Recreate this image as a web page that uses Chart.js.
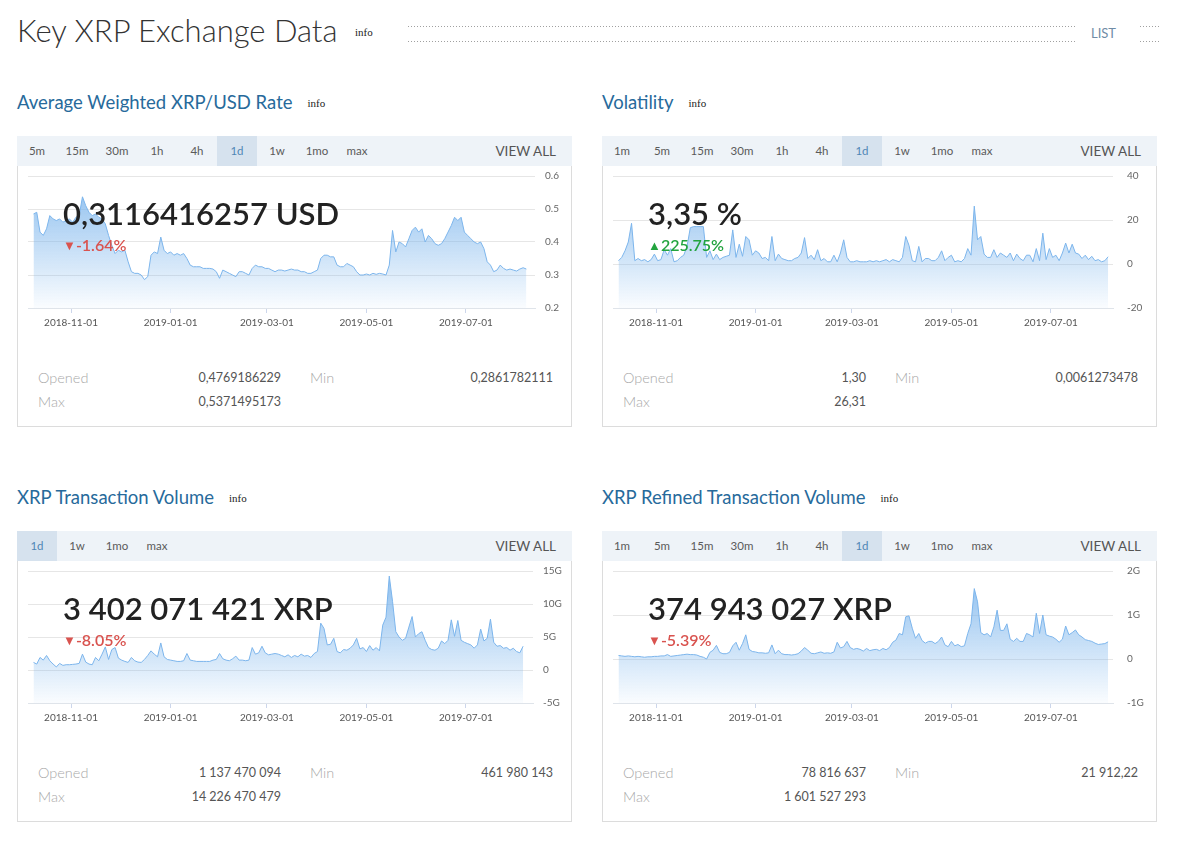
<!DOCTYPE html>
<html>
<head>
<meta charset="utf-8">
<script src="https://cdn.jsdelivr.net/npm/chart.js@4/dist/chart.umd.min.js"></script>
<style>
  body { margin: 0; background: #fff; font-family: Lato, "Open Sans", sans-serif; width: 1177px; height: 841px; position: relative; overflow: hidden; }
  .dots { position: absolute; height: 1px; background: repeating-linear-gradient(to right, #a0a0a0 0 1px, transparent 1px 3px); }
</style>
</head>
<body>
<script>
// ---- data ----
const startDate = "2018-10-09";
const sampleStepDays = 2;
const xTickDates = ["2018-11-01", "2019-01-01", "2019-03-01", "2019-05-01", "2019-07-01"];

const tabsRate = ["5m", "15m", "30m", "1h", "4h", "1d", "1w", "1mo", "max"];
const tabsFull = ["1m", "5m", "15m", "30m", "1h", "4h", "1d", "1w", "1mo", "max"];
const tabsVolume = ["1d", "1w", "1mo", "max"];

// XRP/USD, one value every 2 days
const rateUsd = [
  0.485, 0.49, 0.43, 0.42, 0.44, 0.48, 0.47, 0.465, 0.47, 0.46,
  0.465, 0.47, 0.46, 0.475, 0.48, 0.537, 0.51, 0.49, 0.48, 0.485,
  0.475, 0.47, 0.455, 0.42, 0.39, 0.365, 0.375, 0.37, 0.375, 0.34,
  0.31, 0.305, 0.305, 0.30, 0.286, 0.295, 0.36, 0.37, 0.365, 0.415,
  0.375, 0.365, 0.37, 0.36, 0.365, 0.36, 0.365, 0.35, 0.33, 0.325,
  0.325, 0.325, 0.32, 0.32, 0.32, 0.318, 0.31, 0.29, 0.315, 0.31,
  0.305, 0.30, 0.295, 0.31, 0.31, 0.305, 0.30, 0.32, 0.33, 0.325,
  0.325, 0.32, 0.32, 0.315, 0.31, 0.315, 0.315, 0.312, 0.315, 0.318,
  0.315, 0.315, 0.31, 0.31, 0.305, 0.305, 0.31, 0.315, 0.35, 0.36,
  0.36, 0.355, 0.355, 0.33, 0.325, 0.325, 0.335, 0.33, 0.325, 0.31,
  0.30, 0.30, 0.303, 0.30, 0.305, 0.302, 0.305, 0.303, 0.30, 0.33,
  0.435, 0.37, 0.40, 0.395, 0.385, 0.41, 0.435, 0.445, 0.43, 0.44,
  0.40, 0.42, 0.41, 0.395, 0.39, 0.395, 0.41, 0.43, 0.45, 0.475,
  0.465, 0.475, 0.43, 0.42, 0.41, 0.40, 0.395, 0.40, 0.38, 0.34,
  0.33, 0.31, 0.315, 0.33, 0.32, 0.315, 0.318, 0.315, 0.312, 0.318,
  0.322, 0.318
];

// volatility, %
const volatilityPct = [
  1.5, 3, 6, 10, 18.5, 1.5, 2.5, 1.5, 2, 1,
  2, 4.5, 1.5, 2, 6.5, 4, 7, 1, 1.5, 3,
  4, 8, 16.5, 17, 17, 17, 17, 3, 6, 2,
  4.5, 2, 3, 3.5, 4, 15.5, 3, 9, 3.5, 12.5,
  11, 4, 6, 5, 2.5, 3, 1.5, 12.5, 1.5, 4.5,
  2.5, 2, 1.5, 1.5, 2.5, 3, 5, 12, 2.5, 4,
  2, 6.5, 1.5, 2.5, 1, 1, 4, 1, 5, 11,
  3, 1, 1, 1.5, 1, 1, 1, 1.5, 1, 1.5,
  1, 1.5, 2, 1, 2, 1.5, 1, 3, 12.5, 8.5,
  1.5, 1, 8, 1, 2.5, 2.5, 1.5, 1.5, 3, 6,
  1.5, 3, 4, 1, 1.5, 1, 2.5, 7, 4, 26.31,
  11, 12.5, 4.5, 3, 3, 6.5, 3, 5, 4, 3,
  5, 1.5, 4.5, 2.5, 1.5, 4, 4, 1, 7, 1.5,
  14, 2, 7, 3, 4, 1.5, 5, 9.5, 5, 9,
  5, 4.5, 2.5, 4, 2, 3.5, 1.5, 2, 1, 1.5,
  3.3
];

// transaction volume, billions of XRP
const txVolumeG = [
  1.15, 0.9, 1.9, 1.5, 2.2, 1.4, 0.9, 0.46, 1.0, 0.7,
  0.8, 0.8, 0.85, 0.9, 1.0, 2.4, 1.2, 0.9, 0.8, 1.9,
  1.4, 2.4, 3.5, 1.6, 3.1, 3.4, 1.8, 1.5, 1.3, 1.15,
  1.9, 1.4, 1.2, 1.15, 1.6, 2.2, 2.9, 2.4, 2.0, 4.1,
  2.0, 1.6, 1.5, 1.4, 1.3, 1.3, 1.4, 2.5, 1.5, 1.4,
  1.3, 1.3, 1.3, 1.3, 1.3, 1.5, 1.6, 2.5, 1.7, 1.5,
  1.4, 1.7, 2.1, 1.5, 1.5, 1.4, 1.5, 3.4, 2.4, 2.6,
  3.6, 2.6, 2.3, 2.4, 2.5, 2.4, 2.2, 2.0, 2.3, 1.9,
  2.2, 2.0, 2.4, 2.1, 2.2, 1.9, 2.5, 2.8, 7.1, 6.3,
  3.8, 3.9, 4.8, 2.8, 2.6, 3.1, 3.0, 3.3, 3.8, 4.8,
  3.2, 3.4, 2.8, 3.7, 3.0, 3.4, 2.9, 6.8, 8.0, 14.23,
  10.4, 5.8, 5.0, 4.5, 4.8, 6.5, 8.1, 5.0, 5.5, 5.8,
  4.5, 3.4, 3.1, 3.0, 3.3, 4.4, 4.0, 4.5, 7.6, 5.1,
  7.5, 4.5, 4.2, 4.0, 3.8, 3.3, 3.8, 6.2, 4.4, 4.8,
  7.7, 4.2, 3.6, 3.7, 3.3, 3.4, 3.0, 3.3, 2.8, 2.6,
  3.6
];

// refined transaction volume, billions of XRP
const refinedVolumeG = [
  0.08, 0.07, 0.06, 0.07, 0.06, 0.05, 0.06, 0.05, 0.04, 0.05,
  0.05, 0.06, 0.06, 0.07, 0.07, 0.1, 0.06, 0.07, 0.08, 0.09,
  0.1, 0.11, 0.1, 0.1, 0.09, 0.06, 0.04, 0.00002, 0.15, 0.2,
  0.31, 0.15, 0.12, 0.12, 0.15, 0.3, 0.38, 0.2, 0.35, 0.55,
  0.22, 0.17, 0.16, 0.14, 0.14, 0.13, 0.14, 0.32, 0.12, 0.2,
  0.12, 0.1, 0.1, 0.09, 0.1, 0.12, 0.18, 0.26, 0.2, 0.13,
  0.12, 0.14, 0.16, 0.13, 0.14, 0.13, 0.16, 0.38, 0.25, 0.28,
  0.4, 0.26, 0.22, 0.24, 0.22, 0.18, 0.24, 0.19, 0.21, 0.22,
  0.19, 0.24, 0.21, 0.26, 0.38, 0.43, 0.58, 0.55, 0.96, 0.98,
  0.7, 0.47, 0.58, 0.42, 0.36, 0.4, 0.4, 0.35, 0.4, 0.5,
  0.32, 0.28, 0.4, 0.3, 0.33, 0.28, 0.3, 0.58, 0.8, 1.6,
  1.3, 0.6, 0.55, 0.58, 0.5, 0.73, 1.11, 0.65, 0.65, 0.8,
  0.45, 0.4, 0.47, 0.4, 0.4, 0.58, 0.55, 0.5, 1.04, 0.58,
  1.0, 0.55, 0.52, 0.5, 0.45, 0.38, 0.45, 0.75, 0.55, 0.6,
  0.66, 0.55, 0.5, 0.44, 0.42, 0.4, 0.36, 0.33, 0.34, 0.35,
  0.39
];

// ---- page ----
Chart.defaults.font.family = "Lato, 'Open Sans', sans-serif";
Chart.defaults.animation = false;

function el(tag, css, text, parent) {
  const e = document.createElement(tag);
  e.style.cssText = css;
  if (text != null) e.textContent = text;
  (parent || document.body).appendChild(e);
  return e;
}

function dots(x, y, w) {
  const d = el("div", `left:${x}px;top:${y}px;width:${w}px;`);
  d.className = "dots";
}

function dayOf(s) {
  return Math.round((Date.parse(s) - Date.parse(startDate)) / 86400000);
}

// header
el("div", "position:absolute;left:17px;top:10px;line-height:40px;font-size:31px;font-weight:300;color:#333;white-space:nowrap;", "Key XRP Exchange Data");
el("div", "position:absolute;left:355px;top:24px;line-height:16px;font-family:'Liberation Serif',serif;font-size:11px;color:#222;", "info");
dots(408, 26, 667);
dots(408, 41, 667);
el("div", "position:absolute;left:1091px;top:24px;line-height:18px;font-size:13px;color:#6f8ca6;", "LIST");
dots(1140, 26, 21);
dots(1140, 41, 21);

function gradientFill(ctx) {
  const a = ctx.chart.chartArea;
  if (!a) return "rgba(124,181,236,0.4)";
  const g = ctx.chart.ctx.createLinearGradient(0, a.top, 0, a.bottom);
  g.addColorStop(0, "rgba(124,181,236,0.9)");
  g.addColorStop(1, "rgba(124,181,236,0.04)");
  return g;
}

function buildPanel(p) {
  const L = p.left, T = p.top;

  const head = el("div", `position:absolute;left:${L}px;top:${T - 46}px;height:24px;line-height:24px;white-space:nowrap;`);
  el("span", "font-size:18.5px;color:#276a9b;", p.title, head);
  el("span", "font-family:'Liberation Serif',serif;font-size:11px;color:#222;margin-left:15px;vertical-align:2px;", "info", head);

  const bar = el("div", `position:absolute;left:${L}px;top:${T}px;width:555px;height:30px;background:#eef3f8;`);
  p.tabs.forEach((t, i) => {
    const on = t === p.active;
    el("div", `position:absolute;left:${i * 40}px;top:0;width:40px;height:30px;line-height:30px;text-align:center;font-size:11.5px;color:${on ? "#4f86b5" : "#5a5a5a"};background:${on ? "#d6e2ee" : "transparent"};`, t, bar);
  });
  el("div", "position:absolute;right:16px;top:0;height:30px;line-height:30px;font-size:13.5px;color:#555;", "VIEW ALL", bar);

  el("div", `position:absolute;left:${L}px;top:${T + 30}px;width:553px;height:260px;border:1px solid #dcdcdc;border-top:none;`);

  const canvas = el("canvas", `position:absolute;left:${L + 1}px;top:${T + 31}px;`);
  canvas.width = 553;
  canvas.height = 171;

  el("div", `position:absolute;left:${L + 46}px;top:${T + 57}px;line-height:40px;font-size:31px;font-weight:600;color:#222;white-space:nowrap;`, p.big);
  const ch = el("div", `position:absolute;left:${L + 46}px;top:${T + 99}px;line-height:20px;font-size:16px;font-weight:600;color:${p.up ? "#23a43f" : "#d9534f"};white-space:nowrap;`);
  el("span", "font-size:13px;vertical-align:1px;", p.up ? "\u25B2" : "\u25BC", ch);
  el("span", "", p.change, ch);

  const label = (x, y, t) => el("div", `position:absolute;left:${L + x}px;top:${T + y - 10}px;line-height:20px;font-size:14.5px;font-weight:300;color:#a9a9a9;`, t);
  const value = (x, y, t) => el("div", `position:absolute;right:${1177 - (L + x)}px;top:${T + y - 10}px;line-height:20px;font-size:12.5px;color:#555;white-space:nowrap;`, t);
  label(21, 242, "Opened"); value(264, 242, p.opened);
  label(293, 242, "Min"); value(536, 242, p.min);
  label(21, 266, "Max"); value(264, 266, p.max);

  // x range so that day 0 sits at canvas x 15.5 with 1.632 px per day
  const pxPerDay = 1.632, day0 = 15.5;
  const xMin = (10 - day0) / pxPerDay;
  const xMax = (553 - p.yWidth - day0) / pxPerDay;

  new Chart(canvas, {
    type: "line",
    data: {
      datasets: [{
        data: p.values.map((v, i) => ({ x: i * sampleStepDays, y: v })),
        borderColor: "#7cb5ec",
        borderWidth: 1,
        pointRadius: 0,
        tension: 0,
        fill: "start",
        backgroundColor: gradientFill
      }]
    },
    options: {
      responsive: false,
      devicePixelRatio: 1,
      layout: { padding: { left: 10, top: 9, right: 0, bottom: 0 } },
      plugins: { legend: { display: false }, tooltip: { enabled: false } },
      scales: {
        x: {
          type: "linear",
          min: xMin,
          max: xMax,
          afterBuildTicks: s => { s.ticks = xTickDates.map(d => ({ value: dayOf(d) })); },
          afterFit: s => { s.height = 30; },
          ticks: {
            callback: (v, i) => xTickDates[i],
            color: "#555",
            font: { size: 10 },
            padding: 4,
            maxRotation: 0,
            autoSkip: false
          },
          grid: { drawOnChartArea: false, drawTicks: true, tickLength: 5, color: "#ccd6eb" },
          border: { display: true, color: "#dfe4ea" }
        },
        y: {
          position: "right",
          min: p.yMin,
          max: p.yMax,
          afterFit: s => { s.width = p.yWidth; },
          // gap to the labels comes from an invisible tick mark, so it does not pad the top
          ticks: { stepSize: p.yStep, callback: p.yFmt, color: "#666", font: { size: 10 }, padding: 0 },
          grid: { color: "#e6e6e6", drawTicks: true, tickLength: p.yPad, tickColor: "transparent" },
          border: { display: false }
        }
      }
    }
  });
}

const gFmt = v => (v === 0 ? "0" : v + "G");

buildPanel({
  left: 17, top: 136, title: "Average Weighted XRP/USD Rate", tabs: tabsRate, active: "1d",
  big: "0,3116416257 USD", change: "-1.64%", up: false,
  opened: "0,4769186229", min: "0,2861782111", max: "0,5371495173",
  values: rateUsd, yMin: 0.2, yMax: 0.6, yStep: 0.1, yFmt: v => v.toFixed(1), yWidth: 36, yPad: 10
});
buildPanel({
  left: 602, top: 136, title: "Volatility", tabs: tabsFull, active: "1d",
  big: "3,35 %", change: "225.75%", up: true,
  opened: "1,30", min: "0,0061273478", max: "26,31",
  values: volatilityPct, yMin: -20, yMax: 40, yStep: 20, yFmt: v => String(v), yWidth: 43, yPad: 14
});
buildPanel({
  left: 17, top: 531, title: "XRP Transaction Volume", tabs: tabsVolume, active: "1d",
  big: "3 402 071 421 XRP", change: "-8.05%", up: false,
  opened: "1 137 470 094", min: "461 980 143", max: "14 226 470 479",
  values: txVolumeG, yMin: -5, yMax: 15, yStep: 5, yFmt: gFmt, yWidth: 38, yPad: 10
});
buildPanel({
  left: 602, top: 531, title: "XRP Refined Transaction Volume", tabs: tabsFull, active: "1d",
  big: "374 943 027 XRP", change: "-5.39%", up: false,
  opened: "78 816 637", min: "21 912,22", max: "1 601 527 293",
  values: refinedVolumeG, yMin: -1, yMax: 2, yStep: 1, yFmt: gFmt, yWidth: 43, yPad: 14
});
</script>
</body>
</html>
